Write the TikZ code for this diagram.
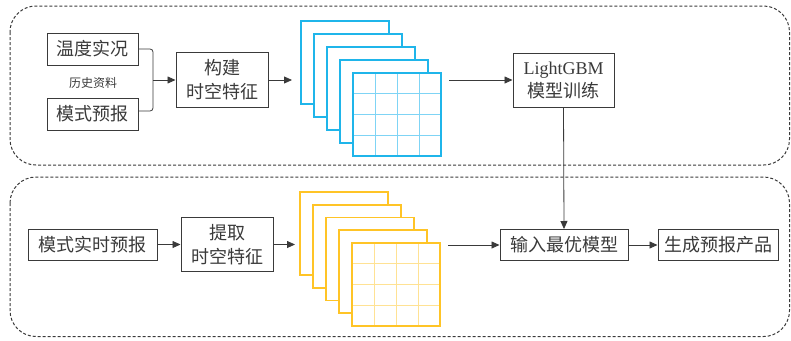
\documentclass[tikz,border=0pt]{standalone}
\usepackage{fontspec}
\setmainfont{Liberation Serif}
\newfontfamily\cjk{Noto Sans CJK SC}
\usetikzlibrary{arrows.meta}
\definecolor{txt}{HTML}{3A3A3A}
\definecolor{ln}{HTML}{3A3A3A}
\definecolor{blueE}{HTML}{1FB5EA}
\definecolor{blueG}{HTML}{7FD4F5}
\definecolor{yelE}{HTML}{FFC426}
\definecolor{yelG}{HTML}{FFE294}
\tikzset{
  box/.style={draw=ln, line width=1pt, fill=white, text=txt, inner sep=0pt, align=center,
    font=\fontsize{18}{24}\selectfont\cjk},
  small/.style={text=txt, font=\fontsize{12}{14}\selectfont\cjk},
  conn/.style={draw=ln, line width=0.8pt},
  arr/.style={conn, -{Triangle[length=8pt,width=7pt]}},
  frame/.style={draw=ln, line width=1pt, dash pattern=on 3pt off 2pt, rounded corners=26pt},
  layer/.style={line width=1.6pt, fill=white}
}
\begin{document}
\begin{tikzpicture}[x=1pt,y=-1pt]
\useasboundingbox (0,0) rectangle (791,340);
% frames
\draw[frame] (10,6) rectangle (789.5,165);
\draw[frame] (10,177) rectangle (789.5,336.5);

% top row
\node[box, minimum width=91pt, minimum height=32pt] (ta) at (92.5,49) {温度实况};
\node[box, minimum width=91pt, minimum height=32pt] (mb) at (92.5,114) {模式预报};
\node[small] (ls) at (93,83) {历史资料};
\node[box, minimum width=92pt, minimum height=55pt] (gj) at (222,80) {构建\\时空特征};
\node[box, minimum width=101pt, minimum height=54pt, font=\fontsize{18}{23}\selectfont] (lgb) at (563.5,80) {LightGBM\\{\cjk 模型训练}};

\coordinate (br) at (153,80);
\draw[conn, rounded corners=3pt] (ta.east) -- (153,49) -- (153,111) -- ([yshift=3pt]mb.east);
\draw[arr] (br) -- (gj.west);

% blue stack
\foreach \i in {0,...,4}{
  \draw[layer, draw=blueE] (301+13*\i,21+13*\i) rectangle ++(88,83);
}
\foreach \k in {1,2,3}{
  \draw[blueG, line width=0.9pt] (353+22*\k,74) -- ++(0,81);
  \draw[blueG, line width=0.9pt] (354,73+20.75*\k) -- ++(86,0);
}
\draw[layer, draw=blueE, fill=none] (353,73) rectangle ++(88,83);
\coordinate (bin) at (292,80);
\coordinate (bout) at (449,80);
\draw[arr] (gj.east) -- (bin);
\draw[arr] (bout) -- (lgb.west);

% bottom row
\node[box, minimum width=129pt, minimum height=31pt] (mr) at (92.5,244.5) {模式实时预报};
\node[box, minimum width=92pt, minimum height=54pt] (tq) at (227,244.5) {提取\\时空特征};
\node[box, minimum width=128pt, minimum height=31pt] (inp) at (564,245) {输入最优模型};
\node[box, minimum width=120pt, minimum height=31pt] (sc) at (718,245) {生成预报产品};

% yellow stack
\foreach \i in {0,...,4}{
  \draw[layer, draw=yelE] (300+13*\i,192+12.75*\i) rectangle ++(88,83);
}
\foreach \k in {1,2,3}{
  \draw[yelG, line width=0.9pt] (352+22*\k,244) -- ++(0,81);
  \draw[yelG, line width=0.9pt] (353,243+20.75*\k) -- ++(86,0);
}
\draw[layer, draw=yelE, fill=none] (352,243) rectangle ++(88,83);
\coordinate (yin) at (295,244.5);
\coordinate (yout) at (448,245);
\draw[arr] (mr.east) -- (tq.west);
\draw[arr] (tq.east) -- (yin);
\draw[arr] (yout) -- (inp.west);
\draw[arr] (inp.east) -- (sc.west);
\draw[arr] (lgb.south) -- (inp.north);
\end{tikzpicture}
\end{document}
